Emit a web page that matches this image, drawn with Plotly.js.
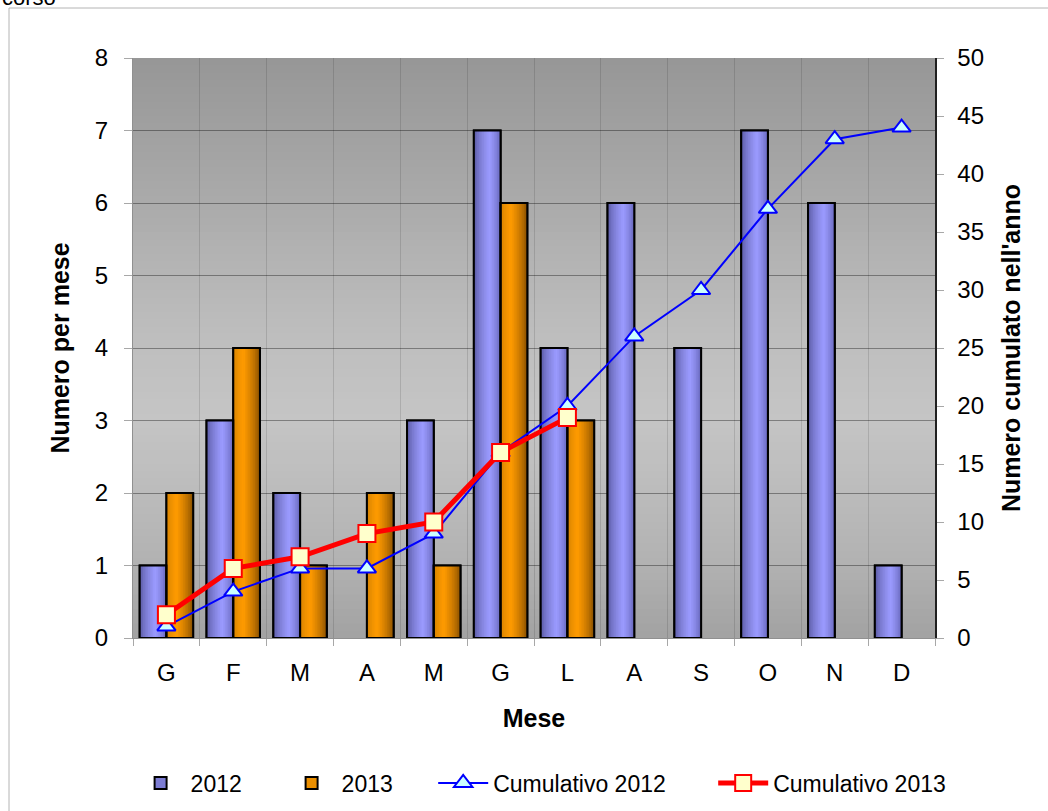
<!DOCTYPE html>
<html>
<head>
<meta charset="utf-8">
<script src="https://cdn.plot.ly/plotly-3.0.1.min.js"></script>
<style>html,body{margin:0;padding:0;background:#fff;}#chart{width:1048px;height:811px;}</style>
</head>
<body>
<div id="chart"></div>
<script>
// ---- data ----
const months = ["G","F","M","A","M","G","L","A","S","O","N","D"];
const monthIds = ["Gen","Feb","Mar","Apr","Mag","Giu","Lug","Ago","Set","Ott","Nov","Dic"];
const count2012 = [1,3,2,0,3,7,4,6,4,7,6,1];
const count2013 = [2,4,1,2,1,6,3];
const cum2012 = [1,4,6,6,9,16,20,26,30,37,43,44];
const cum2013 = [2,6,7,9,10,16,19];
const leftTicks = [0,1,2,3,4,5,6,7,8];
const rightTicks = [0,5,10,15,20,25,30,35,40,45,50];

// ---- styling helpers ----
const FONT = "Liberation Sans, Arial, sans-serif";
function lerp(a,b,t){return a.map((v,i)=>Math.round(v+(b[i]-v)*t));}
function rgb(c){return "rgb("+c[0]+","+c[1]+","+c[2]+")";}
function nz(vals){return vals.map(v => v === 0 ? null : v);} // zero-height bars are not drawn

const traces = [];
function barSeries(name, ids, vals, baseOffset, w, edgeL, peak, edgeR, peakPos){
  const n = 16;
  const y = nz(vals);
  traces.push({type:"bar", name:name, x:ids.slice(0,vals.length), y:y,
    offset:baseOffset, width:w, marker:{color:rgb(lerp(edgeL,peak,0.6)), line:{color:"#000", width:2}},
    hoverinfo:"skip", legend:"legend"});
  const sw = w/n;
  for(let i=0;i<n;i++){
    const t = (i+0.5)/n;
    let c;
    if(t<peakPos){ c = lerp(edgeL, peak, Math.pow(t/peakPos,0.6)); }
    else { c = lerp(edgeR, peak, Math.pow((1-t)/(1-peakPos),0.6)); }
    const wid = (i<n-1) ? sw*1.6 : sw;
    traces.push({type:"bar", x:ids.slice(0,vals.length), y:y, offset:baseOffset+i*sw, width:wid,
      marker:{color:rgb(c), line:{width:0}}, showlegend:false, hoverinfo:"skip"});
  }
}
function outline(ids, vals, baseOffset, w){
  traces.push({type:"bar", x:ids.slice(0,vals.length), y:nz(vals), offset:baseOffset, width:w,
    marker:{color:"rgba(0,0,0,0)", line:{color:"#000", width:2}}, showlegend:false, hoverinfo:"skip"});
}

barSeries("2012", monthIds, count2012, -0.4, 0.4, [80,80,148],[155,155,255],[92,92,172],0.58);
barSeries("2013", monthIds, count2013, 0.0, 0.4, [205,125,0],[255,155,0],[115,66,0],0.38);
outline(monthIds, count2012, -0.4, 0.4);
outline(monthIds, count2013, 0.0, 0.4);

traces.push({type:"scatter", mode:"lines+markers", name:"Cumulativo 2012",
  x:monthIds.slice(0,cum2012.length), y:cum2012, yaxis:"y2", legend:"legend2",
  line:{color:"#0000ff", width:2},
  marker:{symbol:"triangle-up", size:16, color:"#ccffff", line:{color:"#0000ff", width:2}}, hoverinfo:"skip"});
traces.push({type:"scatter", mode:"lines+markers", name:"Cumulativo 2013",
  x:monthIds.slice(0,cum2013.length), y:cum2013, yaxis:"y2", legend:"legend2",
  line:{color:"#ff0000", width:5},
  marker:{symbol:"square", size:17, color:"#ffffcc", line:{color:"#ff0000", width:2}}, hoverinfo:"skip"});

// background gradient stripes in plot area
const shapes = [];
const stops = [[0,[162,162,162]],[0.15,[180,180,180]],[0.38,[197,197,197]],[0.55,[188,188,188]],[0.78,[168,168,168]],[1,[150,150,150]]];
function bgColor(f){
  for(let i=0;i<stops.length-1;i++){
    if(f>=stops[i][0] && f<=stops[i+1][0]){
      const t=(f-stops[i][0])/(stops[i+1][0]-stops[i][0]);
      return rgb(lerp(stops[i][1],stops[i+1][1],t));
    }
  }
  return rgb(stops[stops.length-1][1]);
}
const NS = 80;
for(let i=0;i<NS;i++){
  shapes.push({type:"rect", xref:"x domain", yref:"y domain", x0:0, x1:1,
    y0:i/NS, y1:Math.min(1,(i+1.6)/NS), fillcolor:bgColor((i+0.5)/NS), line:{width:0}, layer:"below"});
}
// outer chart frame (light gray)
shapes.push({type:"path", xref:"paper", yref:"paper",
  path:"M -0.1546,-0.4 L -0.1546,1.0862 L 1.3,1.0862", line:{color:"#b4b4b4", width:1}});

const legendFont = {family:FONT, size:23, color:"#000"};
const layout = {
  width:1048, height:811,
  margin:{l:133, r:113, t:58, b:173, pad:0, autoexpand:false},
  paper_bgcolor:"#ffffff", plot_bgcolor:"rgba(0,0,0,0)",
  font:{family:FONT, size:24, color:"#000"},
  barmode:"overlay", showlegend:true,
  xaxis:{type:"category", categoryorder:"array", categoryarray:monthIds,
    tickmode:"array", tickvals:monthIds, ticktext:months,
    range:[-0.5,11.5], tickson:"boundaries", ticks:"outside", ticklen:7, tickcolor:"#a8a8a8", tickwidth:1,
    showgrid:true, gridcolor:"rgba(0,0,0,0.12)", gridwidth:1,
    showline:true, linecolor:"#909090", linewidth:1,
    tickfont:{family:FONT, size:24, color:"#000"}, ticklabelstandoff:13,
    title:{text:"<b>Mese</b>", font:{family:FONT, size:25, color:"#000"}, standoff:24},
    zeroline:false, fixedrange:true},
  yaxis:{range:[0,8], tickmode:"array", tickvals:leftTicks, ticks:"outside", ticklen:8, tickcolor:"#a8a8a8",
    showgrid:true, gridcolor:"rgba(0,0,0,0.36)", gridwidth:1,
    showline:true, linecolor:"#909090", linewidth:1, zeroline:false,
    tickfont:{family:FONT, size:24, color:"#000"}, ticklabelstandoff:11,
    title:{text:"<b>Numero per mese</b>", font:{family:FONT, size:25, color:"#000"}, standoff:18}, fixedrange:true},
  yaxis2:{overlaying:"y", side:"right", range:[0,50], tickmode:"array", tickvals:rightTicks,
    ticks:"outside", ticklen:7, tickcolor:"#a8a8a8", showgrid:false, zeroline:false,
    showline:true, linecolor:"#202020", linewidth:1.5,
    tickfont:{family:FONT, size:24, color:"#000"}, ticklabelstandoff:9,
    title:{text:"<b>Numero cumulato nell'anno</b>", font:{family:FONT, size:25, color:"#000"}, standoff:19}, fixedrange:true},
  legend:{orientation:"h", x:-0.003, xanchor:"left", y:-0.25, yanchor:"middle",
    font:legendFont, bgcolor:"rgba(0,0,0,0)", traceorder:"normal", itemwidth:50,
    entrywidth:86, entrywidthmode:"pixels"},
  legend2:{orientation:"h", x:0.3743, xanchor:"left", y:-0.25, yanchor:"middle",
    font:legendFont, bgcolor:"rgba(0,0,0,0)", traceorder:"normal", itemwidth:50,
    entrywidth:215, entrywidthmode:"pixels"},
  shapes:shapes,
  annotations:[{text:"corso", xref:"paper", yref:"paper", x:-0.166, y:1.0793, xanchor:"left", yanchor:"bottom",
    showarrow:false, font:{family:FONT, size:22, color:"#000"}}]
};

Plotly.newPlot("chart", traces, layout, {displayModeBar:false, staticPlot:true});
</script>
</body>
</html>
